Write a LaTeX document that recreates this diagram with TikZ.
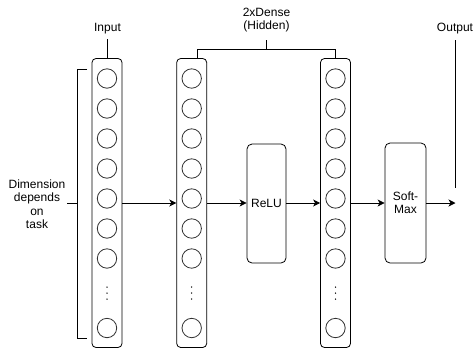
\documentclass[tikz,border=0pt]{standalone}
\usepackage{fontspec}
\setmainfont{Liberation Sans}
\usetikzlibrary{arrows.meta}
\begin{document}
\begin{tikzpicture}[x=1pt,y=-1pt,
  every node/.style={font=\fontsize{12}{14}\selectfont, inner sep=0pt},
  colbox/.style={draw, line width=0.8pt, rounded corners=4pt, minimum width=30pt, minimum height=289pt},
  neuron/.style={draw, circle, line width=0.8pt, draw=black!80, minimum size=19.4pt},
  fbox/.style={draw, line width=0.8pt, rounded corners=5pt, minimum height=119pt, align=center},
  conn/.style={line width=0.8pt},
  arr/.style={line width=0.8pt, -{Stealth[length=7pt,width=7pt,inset=2pt]}},
  lbl/.style={align=center}]
\useasboundingbox (0,0) rectangle (474,349);

% columns
\node[colbox] (c1) at (107,203) {};
\node[colbox] (c2) at (191.7,203) {};
\node[colbox] (c3) at (335.5,203) {};

\foreach \c/\x in {c1/107, c2/191.7, c3/335.5} {
  \foreach \k in {0,...,6} {
    \node[neuron] (\c n\k) at (\x, 78.5+30*\k) {};
  }
  \node[neuron] (\c nlast) at (\x, 328) {};
  \foreach \d in {287,293,299} {
    \fill (\x,\d) circle (0.75pt);
  }
}

% function boxes
\node[fbox, minimum width=39pt] (relu) at (266.5,203.5) {ReLU};
\node[fbox, minimum width=41pt, minimum height=120pt] (soft) at (405.5,203) {Soft-\\[-1pt]Max};

% labels
\node[lbl] (inlbl) at (107.5,29) {Input};
\node[lbl] (hidlbl) at (266.5,20.5) {2xDense\\[-1pt](Hidden)};
\node[lbl] (outlbl) at (455,29) {Output};
\node[lbl] (dimlbl) at (37,204) {Dimension\\[-0.5pt]depends\\[-0.5pt]on\\[-0.5pt]task};

% helper coordinates
\coordinate (inTop) at (107,39);
\coordinate (hidL) at (197,49);
\coordinate (hidR) at (335.5,49);
\coordinate (hidM) at (266.5,49);
\coordinate (hidT) at (266.5,40);
\coordinate (outTop) at (455.5,40);
\coordinate (outBot) at (455.5,188);
\coordinate (outTip) at (455.5,203);
\coordinate (dimA) at (67,203);
\coordinate (dimB) at (77,203);

% Input connector
\draw[conn] (inTop) -- (c1.north);
% hidden bracket
\draw[conn] (197,58.5) -- (hidL) -- (hidR) -- (c3.north);
\draw[conn] (hidM) -- (hidT);
% output line
\draw[conn] (outTop) -- (outBot);
% dimension bracket
\draw[conn] (87,69.7) -- (77,69.7) -- (77,338) -- (87,338);
\draw[conn] (dimA) -- (dimB);

% arrows
\draw[arr] (c1.east) -- (c2.west);
\draw[arr] (c2.east) -- (relu.west |- c2.east);
\draw[arr] (relu.east |- c2.east) -- (c3.west);
\draw[arr] (c3.east) -- (soft.west |- c3.east);
\draw[arr] (soft.east |- c3.east) -- (outTip);
\end{tikzpicture}
\end{document}
